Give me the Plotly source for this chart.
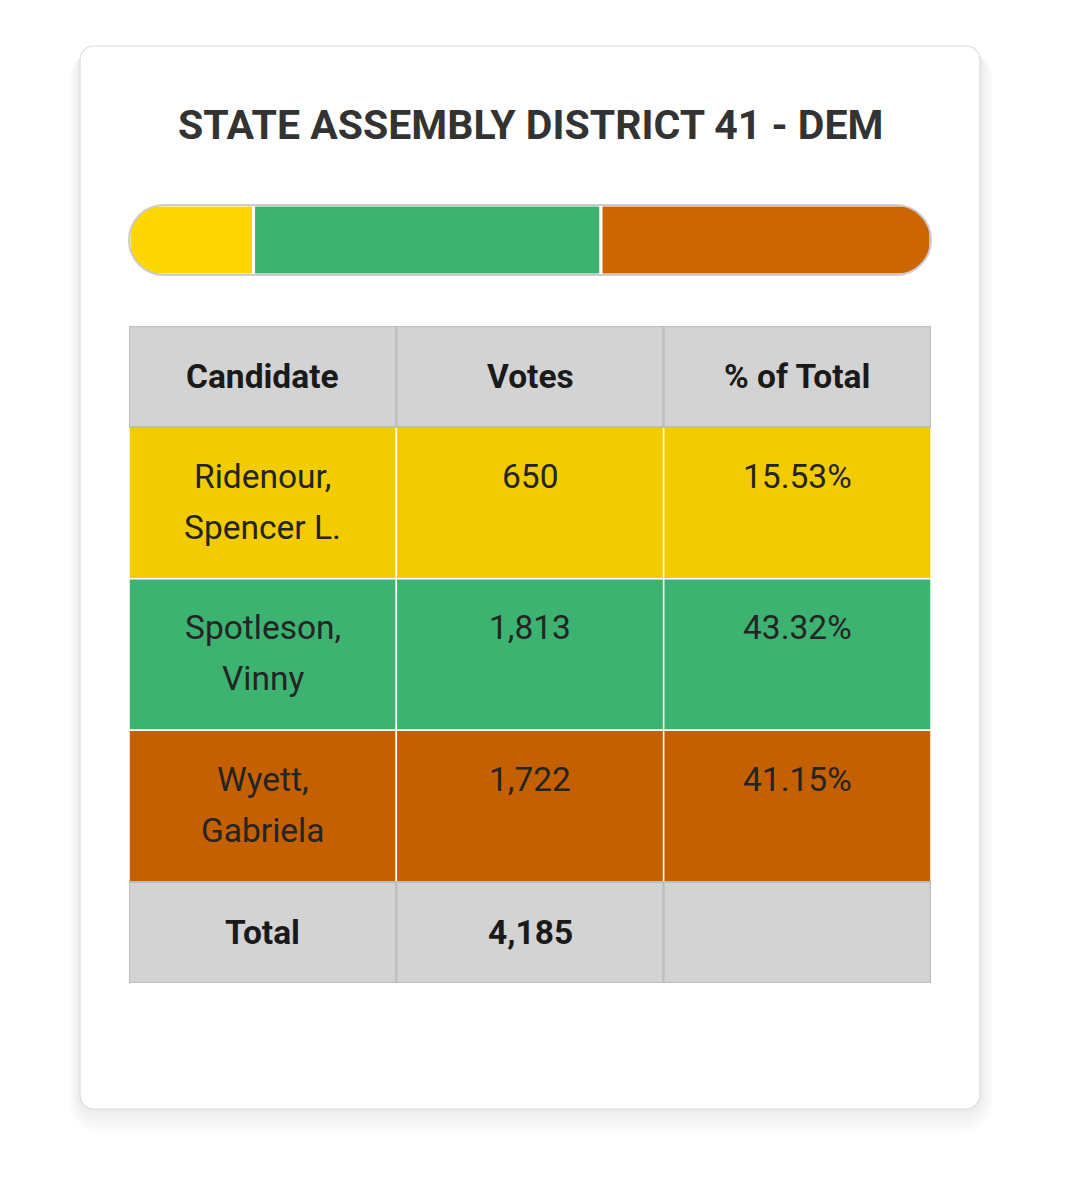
import plotly.graph_objects as go

# ---------------- data ----------------
title_text = "STATE ASSEMBLY DISTRICT 41 - DEM"
candidates = ["Ridenour, Spencer L.", "Spotleson, Vinny", "Wyett, Gabriela"]
votes = [650, 1813, 1722]
bar_colors = ["#FFD700", "#3CB371", "#CC6600"]
row_colors = ["#F2CC00", "#3CB371", "#C46000"]
headers = ["Candidate", "Votes", "% of Total"]
total_label = "Total"

total_votes = sum(votes)
pcts = [v / total_votes * 100 for v in votes]

# ---------------- geometry (page pixels) ----------------
OFF = 8                      # default body margin of the page
W, H = 1071 - 2 * OFF, 1200 - 2 * OFF
CARD = (80, 46, 980, 1109)
BAR_X0, BAR_X1, BAR_Y0, BAR_Y1 = 129, 931, 205, 275
TAB_X0, TAB_X1, TAB_Y0, TAB_Y1 = 129, 931, 326, 983
ROW_UNITS = [1, 1.5, 1.5, 1.5, 1]
FONT = "Roboto, 'Noto Sans', Arial, sans-serif"


def PX(x):
    return (x - OFF) / W


def PY(y):
    return 1 - (y - OFF) / H


def P(x, y):
    return PX(x), PY(y)


def path_from(cmds):
    s = ""
    for cmd, ps in cmds:
        s += cmd + " " + " ".join("%.6f,%.6f" % P(px, py) for px, py in ps) + " "
    return s + "Z"


def rrect_path(x0, y0, x1, y1, r):
    k = 0.5523 * r
    return path_from([
        ("M", [(x0 + r, y0)]),
        ("L", [(x1 - r, y0)]),
        ("C", [(x1 - r + k, y0), (x1, y0 + r - k), (x1, y0 + r)]),
        ("L", [(x1, y1 - r)]),
        ("C", [(x1, y1 - r + k), (x1 - r + k, y1), (x1 - r, y1)]),
        ("L", [(x0 + r, y1)]),
        ("C", [(x0 + r - k, y1), (x0, y1 - r + k), (x0, y1 - r)]),
        ("L", [(x0, y0 + r)]),
        ("C", [(x0, y0 + r - k), (x0 + r - k, y0), (x0 + r, y0)]),
    ])


def end_mask_path(x0, y0, y1, r, side):
    # white area between a square bar end and its semicircular cap
    k = 0.5523 * r
    s = 1 if side == "left" else -1
    xe = x0 + s * r
    return path_from([
        ("M", [(xe, y0 - 3)]),
        ("L", [(x0 - s * 3, y0 - 3)]),
        ("L", [(x0 - s * 3, y1 + 3)]),
        ("L", [(xe, y1 + 3)]),
        ("L", [(xe, y1)]),
        ("C", [(xe - s * k, y1), (x0, y1 - r + k), (x0, y1 - r)]),
        ("C", [(x0, y0 + r - k), (xe - s * k, y0), (xe, y0)]),
    ])


fig = go.Figure()

# ---------------- stacked result bar ----------------
cum = [sum(votes[:i]) for i in range(len(votes))]
for v, b, c in zip(votes, cum, bar_colors):
    fig.add_trace(go.Bar(
        y=[0], x=[v], base=[b], orientation="h", width=1,
        marker=dict(color=c, line=dict(color="white", width=3)),
        hoverinfo="skip", showlegend=False, xaxis="x", yaxis="y",
    ))

# invisible trace so the table axes exist
fig.add_trace(go.Scatter(x=[0], y=[0], mode="markers", marker=dict(opacity=0),
                         hoverinfo="skip", showlegend=False, xaxis="x2", yaxis="y2"))

shapes = []
# card shadow (soft, mostly below)
for i in range(20, 0, -1):
    shapes.append(dict(type="path", xref="paper", yref="paper", layer="below",
                       path=rrect_path(CARD[0] - i * 0.6, CARD[1] + 2, CARD[2] + i * 0.7,
                                       CARD[3] + i * 1.3, 14 + i),
                       fillcolor="rgba(0,0,0,0.0045)", line=dict(width=0)))
# card
shapes.append(dict(type="path", xref="paper", yref="paper", layer="below",
                   path=rrect_path(*CARD, 14), fillcolor="white",
                   line=dict(color="#dcdcdc", width=1.2)))

# rounded ends of the bar
bar_r = (BAR_Y1 - BAR_Y0) / 2
shapes.append(dict(type="path", xref="paper", yref="paper", layer="above",
                   path=end_mask_path(BAR_X0, BAR_Y0, BAR_Y1, bar_r, "left"),
                   fillcolor="white", line=dict(width=0)))
shapes.append(dict(type="path", xref="paper", yref="paper", layer="above",
                   path=end_mask_path(BAR_X1, BAR_Y0, BAR_Y1, bar_r, "right"),
                   fillcolor="white", line=dict(width=0)))
shapes.append(dict(type="path", xref="paper", yref="paper", layer="above",
                   path=rrect_path(BAR_X0, BAR_Y0, BAR_X1, BAR_Y1, bar_r),
                   fillcolor="rgba(0,0,0,0)", line=dict(color="#cccccc", width=2)))

# ---------------- table ----------------
row_tops = [sum(ROW_UNITS[:i]) for i in range(len(ROW_UNITS))]
row_bots = [t + u for t, u in zip(row_tops, ROW_UNITS)]

annotations = []
annotations.append(dict(text="<b>" + title_text + "</b>", xref="paper", yref="paper",
                        x=PX(530), y=PY(125), showarrow=False,
                        xanchor="center", yanchor="middle",
                        font=dict(family=FONT, size=41, color="#333333")))

TEXT_COLOR = "#242424"
FS = 33.5

# candidate rows
for r, (name, v, p, fc) in enumerate(zip(candidates, votes, pcts, row_colors)):
    ri = r + 1
    parts = name.split(", ")
    name_lines = [parts[0] + ",", parts[1]] if len(parts) > 1 else [name]
    cells = [name_lines, ["{:,}".format(v)], ["{:.2f}%".format(p)]]
    for c, lines in enumerate(cells):
        shapes.append(dict(type="rect", xref="x2", yref="y2", layer="above",
                           x0=c, x1=c + 1, y0=row_tops[ri], y1=row_bots[ri],
                           fillcolor=fc, line=dict(color="white", width=1.5)))
        for li, line in enumerate(lines):
            annotations.append(dict(text=line, xref="x2", yref="y2", x=c + 0.5,
                                    y=row_tops[ri], yanchor="middle", xanchor="center",
                                    yshift=-(49 + 51 * li), showarrow=False,
                                    font=dict(family=FONT, size=FS, color=TEXT_COLOR)))

# header and total rows
gray_rows = [(0, headers), (len(ROW_UNITS) - 1, [total_label, "{:,}".format(total_votes), ""])]
for ri, labels in gray_rows:
    for c, lab in enumerate(labels):
        shapes.append(dict(type="rect", xref="x2", yref="y2", layer="above",
                           x0=c, x1=c + 1, y0=row_tops[ri], y1=row_bots[ri],
                           fillcolor="#D3D3D3", line=dict(color="#bdbdbd", width=2)))
        if lab:
            annotations.append(dict(text="<b>" + lab + "</b>", xref="x2", yref="y2",
                                    x=c + 0.5, y=(row_tops[ri] + row_bots[ri]) / 2,
                                    yanchor="middle", xanchor="center", showarrow=False,
                                    font=dict(family=FONT, size=FS, color="#1a1a1a")))

hidden = dict(visible=False, showgrid=False, zeroline=False, fixedrange=True)
fig.update_layout(
    width=W, height=H,
    margin=dict(l=0, r=0, t=0, b=0),
    paper_bgcolor="white", plot_bgcolor="rgba(0,0,0,0)",
    barmode="overlay",
    xaxis=dict(domain=[PX(BAR_X0), PX(BAR_X1)], range=[0, total_votes], **hidden),
    yaxis=dict(domain=[PY(BAR_Y1), PY(BAR_Y0)], range=[-0.5, 0.5], **hidden),
    xaxis2=dict(domain=[PX(TAB_X0), PX(TAB_X1)], range=[0, len(headers)], anchor="y2", **hidden),
    yaxis2=dict(domain=[PY(TAB_Y1), PY(TAB_Y0)], range=[sum(ROW_UNITS), 0], anchor="x2", **hidden),
    shapes=shapes,
    annotations=annotations,
    showlegend=False,
)

fig.write_html("out.html", config={"displayModeBar": False})
